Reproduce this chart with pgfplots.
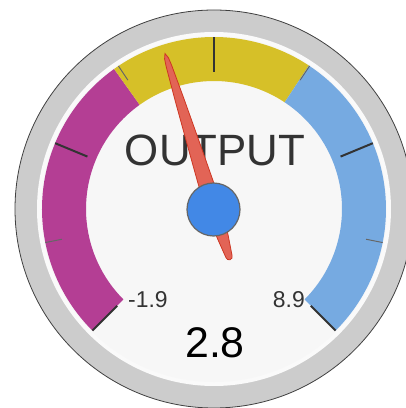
\documentclass[border=0pt]{standalone}
\usepackage{pgfplots}
\pgfplotsset{compat=1.18}
\usepackage{fontspec}
\setmainfont{Liberation Sans}
\definecolor{bandA}{RGB}{180,62,148}
\definecolor{bandB}{RGB}{214,192,40}
\definecolor{bandC}{RGB}{118,170,225}
\definecolor{hub}{RGB}{66,136,230}
\definecolor{needlefill}{RGB}{226,100,86}
\definecolor{needleline}{RGB}{205,55,35}
\definecolor{bezel}{RGB}{204,204,204}
\definecolor{face}{RGB}{247,247,247}
\definecolor{txt}{RGB}{51,51,51}
% gauge data
\def\gmin{-1.9}
\def\gmax{8.9}
\def\gval{2.8}
\def\bA{2.08}
\def\bB{4.84}
\begin{document}
\begin{tikzpicture}
\pgfmathsetmacro\aMin{225}
\pgfmathsetmacro\aMax{-45}
\pgfmathsetmacro\aA{225-270*((\bA)-(\gmin))/((\gmax)-(\gmin))}
\pgfmathsetmacro\aB{225-270*((\bB)-(\gmin))/((\gmax)-(\gmin))}
\pgfmathsetmacro\aVal{225-270*((\gval)-(\gmin))/((\gmax)-(\gmin))}
\begin{axis}[x=1bp,y=1bp,xmin=-214,xmax=192,ymin=-199,ymax=209,hide axis,clip=true]
% bezel
\filldraw[fill=bezel,draw=black!75,line width=0.8bp] (axis cs:0,0) circle[radius=199bp];
\fill[white!98!black] (axis cs:0,0) circle[radius=177bp];
\fill[face] (axis cs:0,0) circle[radius=173bp];
% bands
\fill[bandA] (axis cs:0,0) ++(\aMin:172bp) arc[start angle=\aMin,end angle=\aA,radius=172bp] -- ++(\aA:-44bp) arc[start angle=\aA,end angle=\aMin,radius=128bp] -- cycle;
\fill[bandB] (axis cs:0,0) ++(\aA:172bp) arc[start angle=\aA,end angle=\aB,radius=172bp] -- ++(\aB:-44bp) arc[start angle=\aB,end angle=\aA,radius=128bp] -- cycle;
\fill[bandC] (axis cs:0,0) ++(\aB:172bp) arc[start angle=\aB,end angle=\aMax,radius=172bp] -- ++(\aMax:-44bp) arc[start angle=\aMax,end angle=\aB,radius=128bp] -- cycle;
% major ticks
\draw[line width=2bp,txt] (axis cs:0,0) ++(225:137bp) -- ++(225:35bp);
\draw[line width=2bp,txt] (axis cs:0,0) ++(157.5:137bp) -- ++(157.5:35bp);
\draw[line width=2bp,txt] (axis cs:0,0) ++(90:137bp) -- ++(90:35bp);
\draw[line width=2bp,txt] (axis cs:0,0) ++(22.5:137bp) -- ++(22.5:35bp);
\draw[line width=2bp,txt] (axis cs:0,0) ++(-45:137bp) -- ++(-45:35bp);
% minor ticks
\draw[line width=1bp,black!60] (axis cs:0,0) ++(191.25:155bp) -- ++(191.25:17bp);
\draw[line width=1bp,black!60] (axis cs:0,0) ++(123.75:155bp) -- ++(123.75:17bp);
\draw[line width=1bp,black!60] (axis cs:0,0) ++(56.25:155bp) -- ++(56.25:17bp);
\draw[line width=1bp,black!60] (axis cs:0,0) ++(-11.25:155bp) -- ++(-11.25:17bp);
% texts
\node[anchor=base,text=txt,inner sep=0pt,font=\fontsize{44}{44}\selectfont] at (axis cs:1,44) {OUTPUT};
\node[anchor=base west,text=txt,inner sep=0pt,font=\fontsize{23}{23}\selectfont] at (axis cs:-86,-98) {-1.9};
\node[anchor=base east,text=txt,inner sep=0pt,font=\fontsize{23}{23}\selectfont] at (axis cs:91,-98) {8.9};
\node[anchor=base,text=black,inner sep=0pt,font=\fontsize{43}{43}\selectfont] at (axis cs:1,-148) {2.8};
\coordinate (C) at (axis cs:0,0);
\end{axis}
% needle, rotated to the value's angle round the gauge centre
\begin{scope}[shift={(C)},rotate=\aVal]
\filldraw[fill=needlefill,draw=needleline,line width=0.8bp]
 (163bp,0bp) -- (158bp,2bp) -- (150bp,2.8bp) -- (114bp,4.5bp) -- (60bp,6.5bp) -- (30bp,7.5bp) -- (0bp,8bp)
 -- (-30bp,5.5bp) -- (-50bp,3.2bp) arc[start angle=90,end angle=270,radius=3.2bp]
 -- (-30bp,-5.5bp) -- (0bp,-8bp) -- (30bp,-7.5bp) -- (60bp,-6.5bp) -- (114bp,-4.5bp) -- (150bp,-2.8bp) -- (158bp,-2bp) -- cycle;
\end{scope}
% hub
\filldraw[fill=hub,draw=black!60,line width=1.2bp] ([shift={(-0.5bp,-0.5bp)}]C) circle[radius=26.5bp];
\pgfresetboundingbox
\useasboundingbox (current axis.south west) rectangle (current axis.north east);
\end{tikzpicture}
\end{document}
